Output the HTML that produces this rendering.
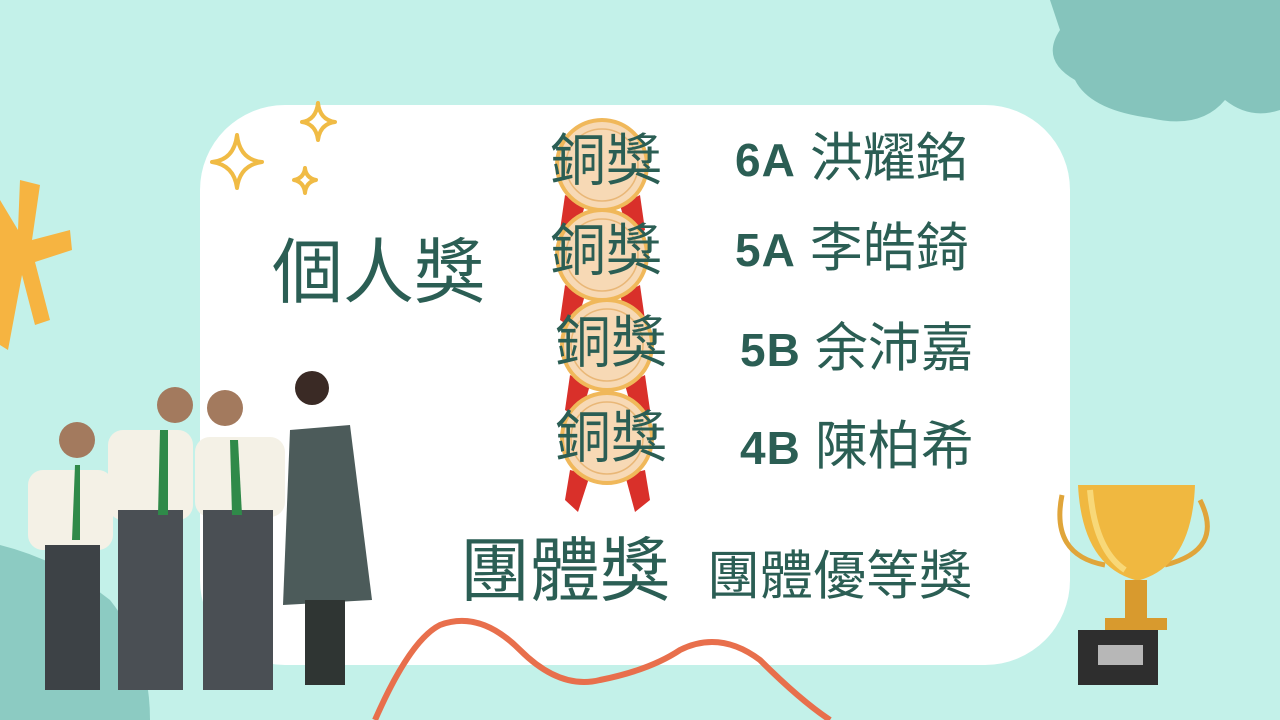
<!DOCTYPE html>
<html><head><meta charset="utf-8"><style>
body{margin:0;width:1280px;height:720px;overflow:hidden;background:#c3f1e9;position:relative;font-family:"Liberation Sans","Noto Sans CJK TC",sans-serif;color:#2b5e54}
.a{position:absolute}
.t{position:absolute;white-space:nowrap;line-height:1}
b{font-size:46px;letter-spacing:1px}
.n{margin-left:14px}
</style></head><body>
<svg class="a" style="left:0;top:0" width="1280" height="720">
<path d="M1050 0 L1280 0 L1280 110 Q1250 120 1225 100 Q1200 130 1150 118 Q1090 110 1075 80 Q1040 60 1060 30 Z" fill="#85c4bc"/>
<path d="M0 545 Q60 560 110 600 Q150 650 150 720 L0 720 Z" fill="#8ccbc2"/>
<rect x="200" y="105" width="870" height="560" rx="85" fill="#fff"/>
<path d="M375 720 Q410 640 440 625 Q480 610 520 650 Q560 690 600 680 Q650 670 680 650 Q720 630 760 660 Q800 700 830 720" fill="none" stroke="#e86f4c" stroke-width="6"/>
<g fill="#f6b441"><path d="M20 180 L40 185 L32 240 L70 230 L72 250 L35 262 L50 320 L35 325 L22 275 L8 350 L0 345 L0 200 L18 230 Z"/></g>
<g fill="none" stroke="#f0bb45" stroke-width="4" stroke-linejoin="round">
<path d="M237 135 Q240 160 262 162 Q240 165 237 188 Q234 165 212 162 Q234 160 237 135Z"/>
<path d="M318 103 Q320 120 335 122 Q320 124 318 140 Q316 124 302 122 Q316 120 318 103Z"/>
<path d="M305 168 Q306 178 316 180 Q306 182 305 193 Q304 182 294 180 Q304 178 305 168Z"/>
</g>
<g>
<g fill="#d9302a">
<path d="M565 195 L585 205 L575 240 L560 230Z"/><path d="M640 195 L620 205 L630 240 L645 230Z"/>
<path d="M565 285 L585 295 L575 330 L560 320Z"/><path d="M640 285 L620 295 L630 330 L645 320Z"/>
<path d="M570 375 L590 385 L580 420 L565 410Z"/><path d="M645 375 L625 385 L635 420 L650 410Z"/>
<path d="M570 470 L590 475 L578 512 L565 500Z"/><path d="M645 470 L625 475 L635 512 L650 500Z"/>
</g>
<g fill="#f7d9b5" stroke="#f0b85a" stroke-width="4">
<circle cx="602" cy="165" r="45"/><circle cx="602" cy="255" r="45"/><circle cx="607" cy="345" r="45"/><circle cx="607" cy="438" r="45"/>
</g>
<g fill="none" stroke="#e9b777" stroke-width="1.5">
<circle cx="602" cy="165" r="36"/><circle cx="602" cy="255" r="36"/><circle cx="607" cy="345" r="36"/><circle cx="607" cy="438" r="36"/>
</g>
</g>
<g>
<rect x="28" y="470" width="85" height="80" rx="15" fill="#f4f1e6"/><rect x="45" y="545" width="55" height="145" fill="#3d4246"/><circle cx="77" cy="440" r="18" fill="#a37a5e"/><path d="M75 465 L80 465 L80 540 L72 540Z" fill="#2f8a49"/>
<rect x="108" y="430" width="85" height="90" rx="15" fill="#f4f1e6"/><rect x="118" y="510" width="65" height="180" fill="#4a4f54"/><circle cx="175" cy="405" r="18" fill="#a37a5e"/><path d="M160 430 L168 430 L168 515 L158 515Z" fill="#2f8a49"/>
<rect x="195" y="437" width="90" height="80" rx="15" fill="#f4f1e6"/><rect x="203" y="510" width="70" height="180" fill="#4a4f54"/><circle cx="225" cy="408" r="18" fill="#a37a5e"/><path d="M230 440 L238 440 L242 515 L232 515Z" fill="#2f8a49"/>
<path d="M290 430 L350 425 L372 600 L283 605Z" fill="#4c5b5a"/><circle cx="312" cy="388" r="17" fill="#3a2a25"/><rect x="305" y="600" width="40" height="85" fill="#2f3533"/>
</g>
<g>
<path d="M1062 495 Q1050 555 1105 565 M1200 500 Q1225 550 1165 565" fill="none" stroke="#e0a53a" stroke-width="5"/>
<path d="M1078 485 L1195 485 Q1192 565 1140 580 L1135 580 Q1082 565 1078 485Z" fill="#f0b840"/>
<path d="M1090 490 Q1095 550 1125 570" fill="none" stroke="#f8d878" stroke-width="6"/>
<rect x="1125" y="580" width="22" height="40" fill="#d89a2e"/>
<rect x="1105" y="618" width="62" height="12" fill="#d89a2e"/>
<rect x="1078" y="630" width="80" height="55" fill="#2e2e2e"/>
<rect x="1098" y="645" width="45" height="20" fill="#b7b7b7"/>
</g>
</svg>
<div class="t" style="left:272px;top:238px;font-size:71px">個人獎</div>
<div class="t" style="left:550px;top:133px;font-size:56px">銅獎</div>
<div class="t" style="left:550px;top:223px;font-size:56px">銅獎</div>
<div class="t" style="left:555px;top:315px;font-size:56px">銅獎</div>
<div class="t" style="left:555px;top:410px;font-size:56px">銅獎</div>
<div class="t" style="left:735px;top:132px;font-size:53px"><b>6A</b><span class="n">洪耀銘</span></div>
<div class="t" style="left:735px;top:222px;font-size:53px"><b>5A</b><span class="n">李皓錡</span></div>
<div class="t" style="left:740px;top:322px;font-size:53px"><b>5B</b><span class="n">余沛嘉</span></div>
<div class="t" style="left:740px;top:420px;font-size:53px"><b>4B</b><span class="n">陳柏希</span></div>
<div class="t" style="left:460px;top:536px;font-size:70px">團體獎</div>
<div class="t" style="left:707px;top:550px;font-size:53px">團體優等獎</div>
</body></html>
